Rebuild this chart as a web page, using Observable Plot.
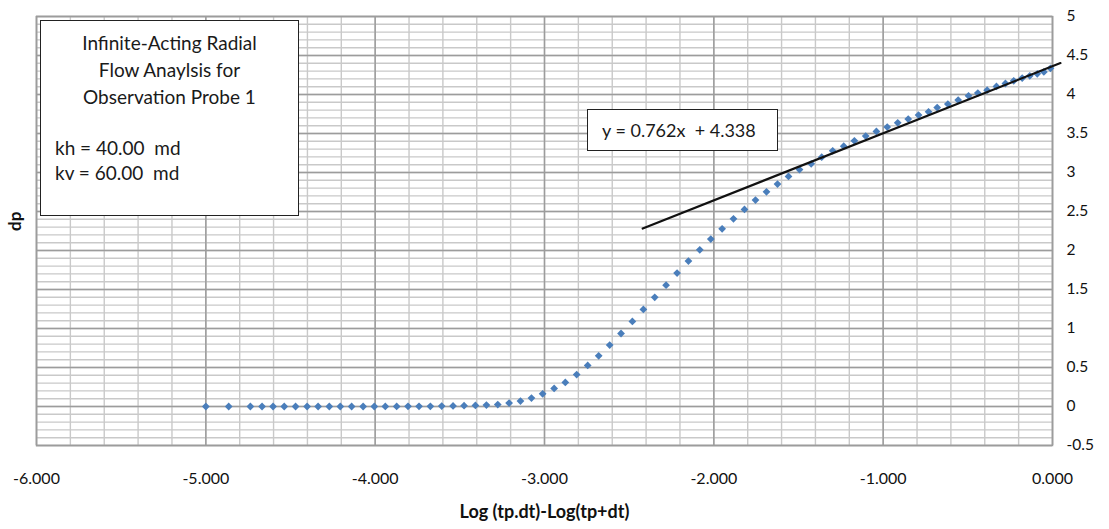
<!DOCTYPE html>
<html>
<head>
<meta charset="utf-8">
<script src="https://cdn.jsdelivr.net/npm/d3@7"></script>
<script src="https://cdn.jsdelivr.net/npm/@observablehq/plot@0.6"></script>
<style>
  html, body { margin: 0; padding: 0; background: #fff; }
  #wrap { position: relative; width: 1109px; height: 529px; font-family: Lato, "Open Sans", sans-serif; }
  .box { position: absolute; background: #fff; border: 1.5px solid #222; box-sizing: border-box; color: #1a1a1a; }
  #info { left: 40px; top: 20px; width: 259px; height: 196px; font-size: 19px; }
  #info .title { text-align: center; line-height: 27px; margin-top: 8px; }
  #info .perm { margin-left: 14px; margin-top: 25px; line-height: 25px; }
  #eq { left: 587px; top: 109px; width: 191px; height: 42px; font-size: 18px; line-height: 40px; padding-left: 14px; }
</style>
</head>
<body>
<div id="wrap"></div>
<script>
const logTime = [-5.000, -4.865, -4.737, -4.668, -4.603, -4.537, -4.470, -4.402, -4.337, -4.271,
  -4.206, -4.139, -4.071, -4.005, -3.940, -3.873, -3.806, -3.741, -3.674, -3.607,
  -3.540, -3.475, -3.408, -3.343, -3.276, -3.209, -3.142, -3.077, -3.011, -2.943,
  -2.877, -2.810, -2.745, -2.680, -2.615, -2.548, -2.481, -2.416, -2.349, -2.282,
  -2.217, -2.150, -2.083, -2.018, -1.951, -1.884, -1.819, -1.754, -1.689, -1.624,
  -1.559, -1.494, -1.425, -1.363, -1.298, -1.233, -1.170, -1.103, -1.040, -0.976,
  -0.914, -0.852, -0.791, -0.732, -0.681, -0.618, -0.557, -0.496, -0.441, -0.386,
  -0.331, -0.278, -0.229, -0.179, -0.134, -0.090, -0.051, -0.012];
const dp = [0.000, 0.000, 0.000, 0.000, 0.000, 0.000, 0.000, 0.000, 0.000, 0.000,
  0.000, 0.000, 0.000, 0.000, 0.001, 0.001, 0.002, 0.002, 0.003, 0.005,
  0.007, 0.010, 0.013, 0.018, 0.025, 0.044, 0.069, 0.108, 0.163, 0.231,
  0.308, 0.410, 0.526, 0.650, 0.787, 0.936, 1.090, 1.244, 1.400, 1.556,
  1.710, 1.864, 2.009, 2.146, 2.278, 2.406, 2.526, 2.646, 2.753, 2.851,
  2.949, 3.037, 3.112, 3.197, 3.278, 3.338, 3.406, 3.467, 3.526, 3.582,
  3.637, 3.685, 3.736, 3.778, 3.833, 3.877, 3.928, 3.983, 4.018, 4.056,
  4.103, 4.141, 4.176, 4.210, 4.240, 4.265, 4.290, 4.335];

// Trend line as drawn (endpoints)
const trendX = [-2.42, 0.047];
const trendY = [2.282, 4.403];

// Axis ticks
const xTicks = [-6, -5, -4, -3, -2, -1, 0];
const yTicks = [-0.5, 0, 0.5, 1, 1.5, 2, 2.5, 3, 3.5, 4, 4.5, 5];
const xMinor = d3.range(-6, 0.0001, 0.2).map(v => +v.toFixed(2));
const yMinor = d3.range(-0.5, 5.0001, 0.1).map(v => +v.toFixed(2));

const equationText = "y = 0.762x  + 4.338";
const infoTitle = ["Infinite-Acting Radial", "Flow Anaylsis for", "Observation Probe 1"];
const infoPerm = ["kh = 40.00  md", "kv = 60.00  md"];
const xTitle = "Log (tp.dt)-Log(tp+dt)";
const yTitle = "dp";

const points = logTime.map((x, i) => ({x, y: dp[i]}));
const trend = trendX.map((x, i) => ({x, y: trendY[i]}));

const chart = Plot.plot({
  width: 1109,
  height: 529,
  marginLeft: 36,
  marginRight: 57,
  marginTop: 16,
  marginBottom: 84,
  style: {fontFamily: "Lato, 'Open Sans', sans-serif", fontSize: "15px", color: "#111", background: "#fff"},
  x: {domain: [-6, 0]},
  y: {domain: [-0.5, 5]},
  marks: [
    Plot.ruleX(xMinor, {stroke: "#c9c9c9", strokeWidth: 1.4}),
    Plot.ruleY(yMinor, {stroke: "#c9c9c9", strokeWidth: 1.4}),
    Plot.ruleX(xTicks, {stroke: "#9c9c9c", strokeWidth: 1.5}),
    Plot.ruleY(yTicks, {stroke: "#9c9c9c", strokeWidth: 1.5}),
    Plot.frame({stroke: "#9c9c9c", strokeWidth: 1.5}),
    Plot.axisX({ticks: xTicks, tickFormat: d => d.toFixed(3), tickSize: 0, tickPadding: 27, label: null, fontSize: 16}),
    Plot.axisY({anchor: "right", ticks: yTicks, tickFormat: d => String(d), tickSize: 0, tickPadding: 14, label: null, fontSize: 15.5}),
    Plot.dot(points, {x: "x", y: "y", symbol: "diamond2", r: 3.5, fill: "#4A7EBB", stroke: "none"}),
    Plot.line(trend, {x: "x", y: "y", stroke: "#111", strokeWidth: 2.2, clip: false}),
    Plot.text([yTitle], {frameAnchor: "left", dx: -21, rotate: -90, fontWeight: "bold", fontSize: 17, fill: "#111"}),
    Plot.text([xTitle], {frameAnchor: "bottom", dy: 72, fontWeight: "bold", fontSize: 18, fill: "#111"})
  ]
});

const wrap = document.getElementById("wrap");
wrap.appendChild(chart);

const info = document.createElement("div");
info.id = "info"; info.className = "box";
info.innerHTML = `<div class="title">${infoTitle.join("<br>")}</div><div class="perm">${infoPerm.map(s => s.replace(/ {2}/g, "&nbsp; ")).join("<br>")}</div>`;
wrap.appendChild(info);

const eq = document.createElement("div");
eq.id = "eq"; eq.className = "box";
eq.innerHTML = equationText.replace(/ {2}/g, "&nbsp; ");
wrap.appendChild(eq);
</script>
</body>
</html>
